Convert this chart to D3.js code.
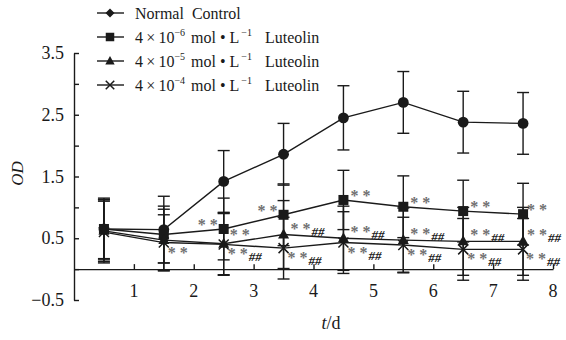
<!DOCTYPE html>
<html><head><meta charset="utf-8">
<script src="https://cdn.jsdelivr.net/npm/d3@7"></script>
<style>body{margin:0;background:#fff}svg{display:block}</style>
</head><body>
<script>
const days = [0.5, 1.5, 2.5, 3.5, 4.5, 5.5, 6.5, 7.5];
const xTicks = [1, 2, 3, 4, 5, 6, 7, 8];
const yTicks = [-0.5, 0, 0.5, 1, 1.5, 2, 2.5, 3, 3.5];
const yLabels = [-0.5, 0.5, 1.5, 2.5, 3.5];
const seriesNames = ["Normal  Control", "4×10|−6|mol • L|−1|Luteolin", "4×10|−5|mol • L|−1|Luteolin", "4×10|−4|mol • L|−1|Luteolin"];
const controlVals = [0.65, 0.64, 1.42, 1.86, 2.45, 2.70, 2.38, 2.36];
const controlErr  = [0.50, 0.54, 0.50, 0.50, 0.52, 0.50, 0.50, 0.50];
const low6Vals = [0.65, 0.56, 0.65, 0.88, 1.12, 1.01, 0.94, 0.89];
const low6Err  = [0.48, 0.46, 0.50, 0.50, 0.48, 0.50, 0.50, 0.50];
const mid5Vals = [0.62, 0.47, 0.41, 0.56, 0.50, 0.47, 0.45, 0.45];
const mid5Err  = [0.50, 0.50, 0.50, 0.55, 0.52, 0.52, 0.55, 0.55];
const high4Vals = [0.60, 0.43, 0.40, 0.34, 0.43, 0.39, 0.32, 0.32];
const high4Err  = [0.50, 0.45, 0.50, 0.50, 0.50, 0.45, 0.50, 0.50];
const low6Sig  = ["", "", "**", "**", "**", "**", "**", "**"];
const mid5Sig  = ["", "", "**", "**##", "**##", "**##", "**##", "**##"];
const high4Sig = ["", "**", "**##", "**##", "**##", "**##", "**##", "**##"];

const W = 566, H = 340;
const svg = d3.select("body").append("svg").attr("width", W).attr("height", H)
  .attr("font-family", "Liberation Serif, Times New Roman, serif");
const x = d3.scaleLinear().domain([0, 8]).range([74, 553]);
const y = d3.scaleLinear().domain([-0.5, 3.5]).range([300, 53]);
const ink = "#1a1a1a";

// y axis
const yAx = svg.append("g").attr("transform", `translate(${x(0)},0)`)
  .call(d3.axisRight(y).tickValues(yTicks).tickSize(5).tickSizeOuter(0).tickFormat(""));
yAx.select(".domain").attr("stroke", ink).attr("stroke-width", 1.4);
yAx.selectAll(".tick line").attr("stroke", ink).attr("stroke-width", 1.4);
svg.append("g").selectAll("text").data(yLabels).join("text")
  .attr("x", x(0) - 10).attr("y", d => y(d) + 6).attr("text-anchor", "end")
  .attr("font-size", 18).attr("fill", ink)
  .text(d => d < 0 ? "−" + d3.format(".1f")(-d) : d3.format(".1f")(d));

// x axis at y=0
const xAx = svg.append("g").attr("transform", `translate(0,${y(0)})`)
  .call(d3.axisTop(x).tickValues(xTicks).tickSize(5).tickSizeOuter(0).tickFormat(""));
xAx.select(".domain").attr("stroke", ink).attr("stroke-width", 1.4);
xAx.selectAll(".tick line").attr("stroke", ink).attr("stroke-width", 1.4);
svg.append("g").selectAll("text").data(xTicks).join("text")
  .attr("x", d => x(d)).attr("y", 297).attr("text-anchor", "middle")
  .attr("font-size", 18).attr("fill", ink).text(d => d);

// axis titles
svg.append("text").attr("transform", `translate(23,${y(1.55)}) rotate(-90)`)
  .attr("text-anchor", "middle").attr("font-size", 17).attr("font-style", "italic").attr("fill", ink).text("OD");
const xt = svg.append("text").attr("x", 331).attr("y", 329).attr("text-anchor", "middle").attr("font-size", 18).attr("fill", ink);
xt.append("tspan").attr("font-style", "italic").text("t");
xt.append("tspan").text("/d");

const series = [
  {vals: controlVals, err: controlErr, shape: "circle"},
  {vals: low6Vals, err: low6Err, shape: "square"},
  {vals: mid5Vals, err: mid5Err, shape: "triangle"},
  {vals: high4Vals, err: high4Err, shape: "cross"}
];

function marker(g, shape, cx, cy, legend) {
  const k = legend ? 0.85 : 1;
  if (shape === "circle") {
    if (legend) g.append("path").attr("d", `M${cx},${cy-4.5}L${cx+4.5},${cy}L${cx},${cy+4.5}L${cx-4.5},${cy}Z`).attr("fill", ink);
    else g.append("circle").attr("cx", cx).attr("cy", cy).attr("r", 5.4).attr("fill", ink);
  } else if (shape === "square") {
    g.append("rect").attr("x", cx - 5*k).attr("y", cy - 5*k).attr("width", 10*k).attr("height", 10*k).attr("fill", ink);
  } else if (shape === "triangle") {
    g.append("path").attr("d", `M${cx},${cy-6*k}L${cx+5.5*k},${cy+4*k}L${cx-5.5*k},${cy+4*k}Z`).attr("fill", ink);
  } else {
    g.append("path").attr("d", `M${cx-5*k},${cy-5*k}L${cx+5*k},${cy+5*k}M${cx+5*k},${cy-5*k}L${cx-5*k},${cy+5*k}`)
      .attr("stroke", ink).attr("stroke-width", 1.5).attr("fill", "none");
  }
}

// error bars
series.forEach(s => {
  const g = svg.append("g").attr("stroke", ink).attr("stroke-width", 1.4);
  days.forEach((d, i) => {
    const hi = y(s.vals[i] + s.err[i]), lo = y(s.vals[i] - s.err[i]), cx = x(d);
    g.append("line").attr("x1", cx).attr("x2", cx).attr("y1", hi).attr("y2", lo);
    g.append("line").attr("x1", cx - 6).attr("x2", cx + 6).attr("y1", hi).attr("y2", hi);
    g.append("line").attr("x1", cx - 6).attr("x2", cx + 6).attr("y1", lo).attr("y2", lo);
  });
});
// lines
const line = d3.line().x((v, i) => x(days[i])).y(v => y(v));
series.forEach(s => {
  svg.append("path").attr("d", line(s.vals)).attr("fill", "none").attr("stroke", ink).attr("stroke-width", 1.4);
});
// markers
series.forEach(s => {
  const g = svg.append("g");
  days.forEach((d, i) => marker(g, s.shape, x(d), y(s.vals[i]), false));
});

// significance marks
function sig(label, px, py, anchor) {
  if (!label) return;
  const t = svg.append("text").attr("x", px).attr("y", py).attr("text-anchor", anchor);
  t.append("tspan").attr("fill", "#707070").attr("font-size", 16).attr("font-weight", "bold").text("* *");
  if (label.includes("##")) t.append("tspan").attr("fill", "#222").attr("font-style", "italic").attr("font-weight", "bold")
    .attr("font-size", 13).attr("dx", 1).attr("dy", 2).text("##");
}
days.forEach((d, i) => {
  const cx = x(d);
  const dxR = i === 7 ? 4 : 7;
  if (i < 4) sig(low6Sig[i], cx - 6, y(low6Vals[i]) + 1, "end");
  else sig(low6Sig[i], cx + dxR, y(low6Vals[i]) + 1, "start");
  if (i === 2) sig(mid5Sig[i], cx + 6, y(mid5Vals[i]) - 4, "start");
  else sig(mid5Sig[i], cx + dxR, y(mid5Vals[i]) - 1, "start");
  sig(high4Sig[i], cx + (i === 7 ? 3 : 4), y(high4Vals[i]) + 15, "start");
});

// legend
const lg = svg.append("g");
seriesNames.forEach((name, i) => {
  const ly = 13 + i * 24;
  lg.append("line").attr("x1", 97).attr("x2", 124).attr("y1", ly).attr("y2", ly).attr("stroke", ink).attr("stroke-width", 1.4);
  marker(lg, series[i].shape, 110, ly, true);
  const parts = name.split("|");
  const t = lg.append("text").attr("x", 135).attr("y", ly + 6).attr("font-size", 16).attr("fill", ink)
    .attr("xml:space", "preserve");
  if (parts.length === 1) {
    t.text(parts[0]);
  } else {
    t.append("tspan").text(parts[0].replace("×", "\u2009×\u2009"));
    t.append("tspan").attr("dy", -7).attr("font-size", 10).text(parts[1]);
    t.append("tspan").attr("x", 191).attr("dy", 7).text(parts[2]);
    t.append("tspan").attr("dy", -7).attr("dx", 2).attr("font-size", 10).text(parts[3]);
    t.append("tspan").attr("x", 265).attr("dy", 7).text(parts[4]);
  }
});
</script>
</body></html>
